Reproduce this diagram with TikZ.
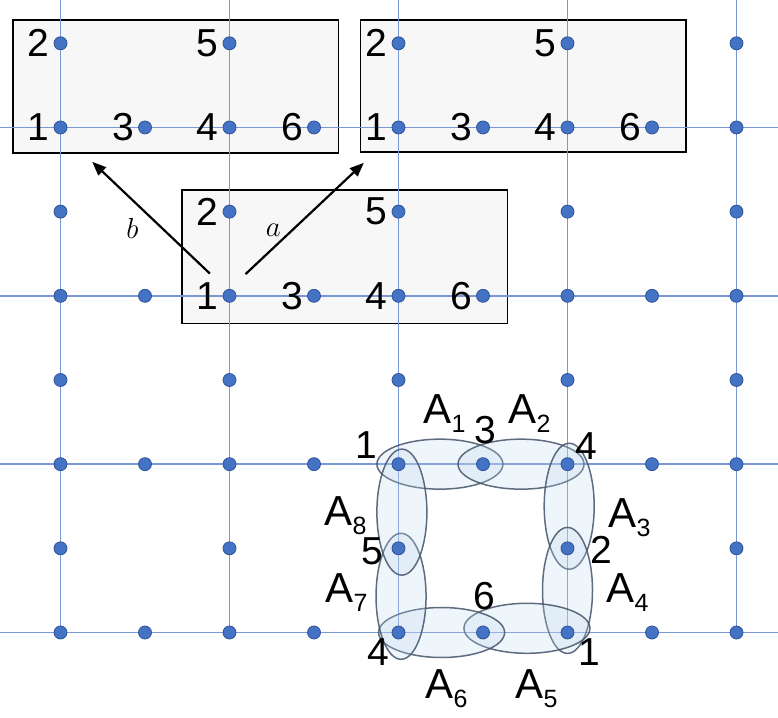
\RequirePackage{fix-cm}
\documentclass[tikz,border=0pt]{standalone}
\usepackage{fontspec}
\setsansfont{Liberation Sans}
\usepackage{tikz}
\usetikzlibrary{arrows.meta}
\definecolor{gridblue}{RGB}{120,152,214}
\definecolor{dotblue}{RGB}{68,114,196}
\definecolor{dotedge}{RGB}{47,85,151}
\definecolor{linkfill}{RGB}{189,215,238}
\definecolor{linkedge}{RGB}{68,84,106}
\definecolor{boxgray}{RGB}{247,247,247}
\newcommand{\vecarw}{-{Triangle[length=14pt,width=11pt]}}
\newcommand{\Alab}[1]{A\raisebox{-9pt}{\fontsize{25}{25}\selectfont#1}}

\begin{document}
\begin{tikzpicture}[x=84.5pt,y=84.17pt,
  dot/.style={circle,fill=dotblue,draw=dotedge,line width=0.8pt,minimum size=13pt,inner sep=0pt},
  num/.style={font=\sffamily\fontsize{39}{39}\selectfont,inner sep=0pt},
  alab/.style={font=\sffamily\fontsize{42}{42}\selectfont,inner sep=0pt,anchor=base west},
  gridline/.style={gridblue,line width=1.5pt},
  cell/.style={draw=black,fill=boxgray,line width=1.8pt},
  link/.style={draw=linkedge,draw opacity=0.85,fill=linkfill,fill opacity=0.25,line width=1.5pt},
  hlink/.style={link,x radius=63pt,y radius=25pt},
  vlink/.style={link,x radius=25pt,y radius=63pt}]
\useasboundingbox (-60.5pt,-84.5pt) rectangle (717.5pt,632.5pt);
%unit cells
\draw[cell] (-0.56,5.70) rectangle (3.29,7.28);
\draw[cell] (3.55,5.71) rectangle (7.40,7.28);
\draw[cell] (1.44,3.67) rectangle (5.29,5.26);
%lattice
\foreach \i in {0,2,...,8}
  \draw[gridline] (\i,0) -- (\i,7.52);
\foreach \j in {0,2,4,6}
  \draw[gridline] (-0.72,\j) -- (8.5,\j);
%links of the loop
\draw[hlink] (4.49,2.00) ellipse;
\draw[hlink] (5.45,2.00) ellipse;
\draw[vlink] (6.02,1.50) ellipse;
\draw[vlink] (6.00,0.50) ellipse;
\draw[hlink] (5.52,0.05) ellipse;
\draw[hlink] (4.51,0.00) ellipse;
\draw[vlink] (4.03,0.43) ellipse;
\draw[vlink] (4.04,1.43) ellipse;
%sites
\foreach \j in {0,...,7}
  \foreach \i in {0,...,8}
    {\ifodd\numexpr\i*\j\relax\else\node[dot] (d\i-\j) at (\i,\j) {};\fi}
%site numbers in the cells
\foreach \bi/\bj in {0/6,4/6,2/4}
  \foreach \di/\dj/\t in {0/1/2,2/1/5,0/0/1,1/0/3,2/0/4,3/0/6}
  {
    \pgfmathtruncatemacro{\ii}{\bi+\di}
    \pgfmathtruncatemacro{\jj}{\bj+\dj}
    \node[num,anchor=east] (n\ii-\jj) at ([xshift=-11pt]d\ii-\jj) {\t};
  }
%translations
\coordinate (btail) at (1.767,4.265);
\coordinate (bhead) at (0.375,5.592);
\coordinate (atail) at (2.189,4.257);
\coordinate (ahead) at (3.590,5.580);
\draw[\vecarw,line width=2.2pt] (btail) -- (bhead);
\draw[\vecarw,line width=2.2pt] (atail) -- (ahead);
\node[font=\fontsize{29}{29}\selectfont] (lb) at (0.85,4.80) {$b$};
\node[font=\fontsize{29}{29}\selectfont] (la) at (2.52,4.78) {$a$};
%site numbers on the loop
\node[num] (s1)  at ([shift={(-32pt,19pt)}]d4-2) {1};
\node[num] (s3)  at ([shift={(2pt,34pt)}]d5-2)   {3};
\node[num] (s4)  at ([shift={(19pt,18pt)}]d6-2)  {4};
\node[num] (s5)  at ([shift={(-26pt,-3pt)}]d4-1) {5};
\node[num] (s2)  at ([shift={(34pt,-2pt)}]d6-1)  {2};
\node[num] (s6)  at ([shift={(1pt,36pt)}]d5-0)   {6};
\node[num] (s4b) at ([shift={(-20pt,-20pt)}]d4-0) {4};
\node[num] (s1b) at ([shift={(22pt,-20pt)}]d6-0)  {1};
%link labels
\node[alab] (A1) at (363pt,209pt) {\Alab{1}};
\node[alab] (A2) at (448pt,209pt) {\Alab{2}};
\node[alab] (A3) at (548pt,105pt) {\Alab{3}};
\node[alab] (A4) at (546pt,30pt)  {\Alab{4}};
\node[alab] (A5) at (455pt,-66pt) {\Alab{5}};
\node[alab] (A6) at (365pt,-66pt) {\Alab{6}};
\node[alab] (A7) at (265pt,30pt)  {\Alab{7}};
\node[alab] (A8) at (264pt,107pt) {\Alab{8}};
\end{tikzpicture}
\end{document}
